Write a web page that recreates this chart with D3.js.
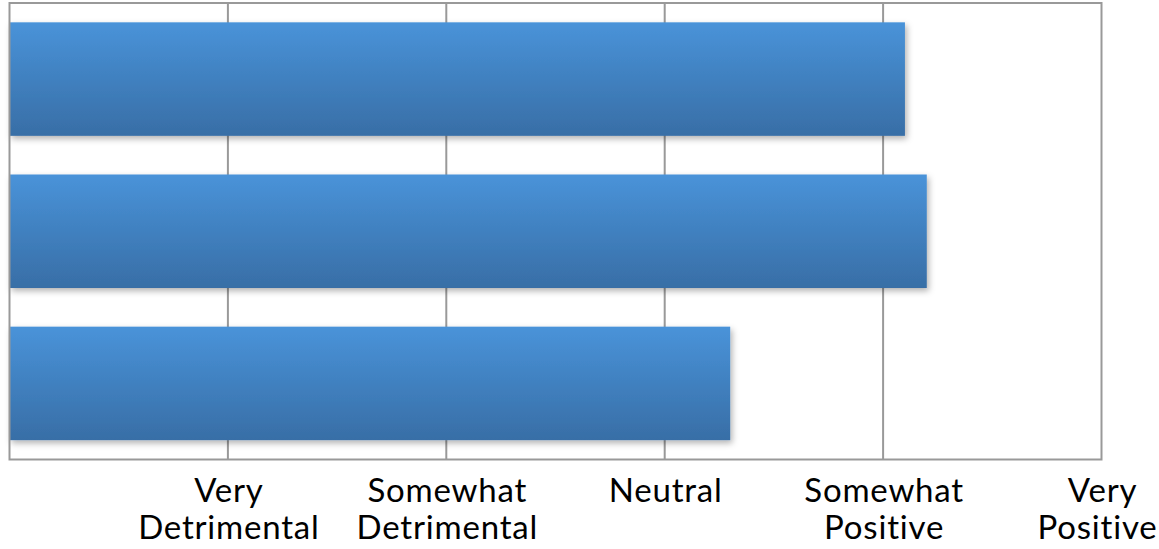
<!DOCTYPE html>
<html><head><meta charset="utf-8">
<script src="https://cdn.jsdelivr.net/npm/d3@7"></script>
<style>body{margin:0;background:#fff;}svg{display:block;}</style>
</head><body>
<svg id="c" width="1159" height="549"></svg>
<script>
const categories = ["Item 1", "Item 2", "Item 3"];
const values = [4.1, 4.2, 3.3];
const tickValues = [1, 2, 3, 4, 5];
const tickLabels = [["Very","Detrimental"],["Somewhat","Detrimental"],["Neutral"],["Somewhat","Positive"],["Very","Positive"]];

const svg = d3.select("#c");
const W = 1159;
const m = {left: 9.5, right: 1101.5, top: 3, bottom: 459.5};
const x = d3.scaleLinear().domain([0,5]).range([m.left, m.right]);
const y = d3.scaleBand().domain(categories).range([m.top, m.bottom]).paddingInner(0.254).paddingOuter(0.127);

const defs = svg.append("defs");
const g = defs.append("linearGradient").attr("id","bg").attr("x1",0).attr("x2",0).attr("y1",0).attr("y2",1);
g.append("stop").attr("offset","0%").attr("stop-color","#4993d9");
g.append("stop").attr("offset","100%").attr("stop-color","#386ea6");
const f = defs.append("filter").attr("id","sh").attr("x","-5%").attr("y","-10%").attr("width","115%").attr("height","130%");
f.append("feDropShadow").attr("dx",2).attr("dy",3).attr("stdDeviation",3).attr("flood-color","#000").attr("flood-opacity",0.3);

// gridlines
svg.append("g").selectAll("line").data(tickValues.slice(0,4)).join("line")
  .attr("x1", d=>x(d)).attr("x2", d=>x(d)).attr("y1", m.top).attr("y2", m.bottom)
  .attr("stroke","#999").attr("stroke-width",2);

// bars
svg.append("g").selectAll("rect").data(values).join("rect")
  .attr("x", x(0)).attr("y", (d,i)=>y(categories[i]))
  .attr("width", d=>x(d)-x(0)).attr("height", y.bandwidth())
  .attr("fill","url(#bg)").attr("filter","url(#sh)");

// frame
svg.append("rect").attr("x",m.left).attr("y",m.top).attr("width",m.right-m.left).attr("height",m.bottom-m.top)
  .attr("fill","none").attr("stroke","#999").attr("stroke-width",2);

// axis labels
const ax = svg.append("g").attr("transform",`translate(0,${m.bottom})`)
  .call(d3.axisBottom(x).tickValues(tickValues).tickSize(0).tickFormat(""));
ax.select(".domain").remove();
ax.selectAll(".tick").each(function(d,i){
  const t = d3.select(this).append("text").attr("fill","#000").attr("text-anchor","middle")
    .style("font-family","Lato, 'Open Sans', sans-serif").style("font-size","33px").style("letter-spacing","0.8px");
  tickLabels[i].forEach((s,j)=>{
    const ts = t.append("tspan").attr("x",0.5).attr("y", 42.5 + j*37).text(s);
    const len = ts.node().getComputedTextLength();
    const right = x(d) + 0.5 + len/2;
    if (right > W - 2) ts.attr("x", 0.5 - (right - (W - 2)));
  });
});
</script>
</body></html>
